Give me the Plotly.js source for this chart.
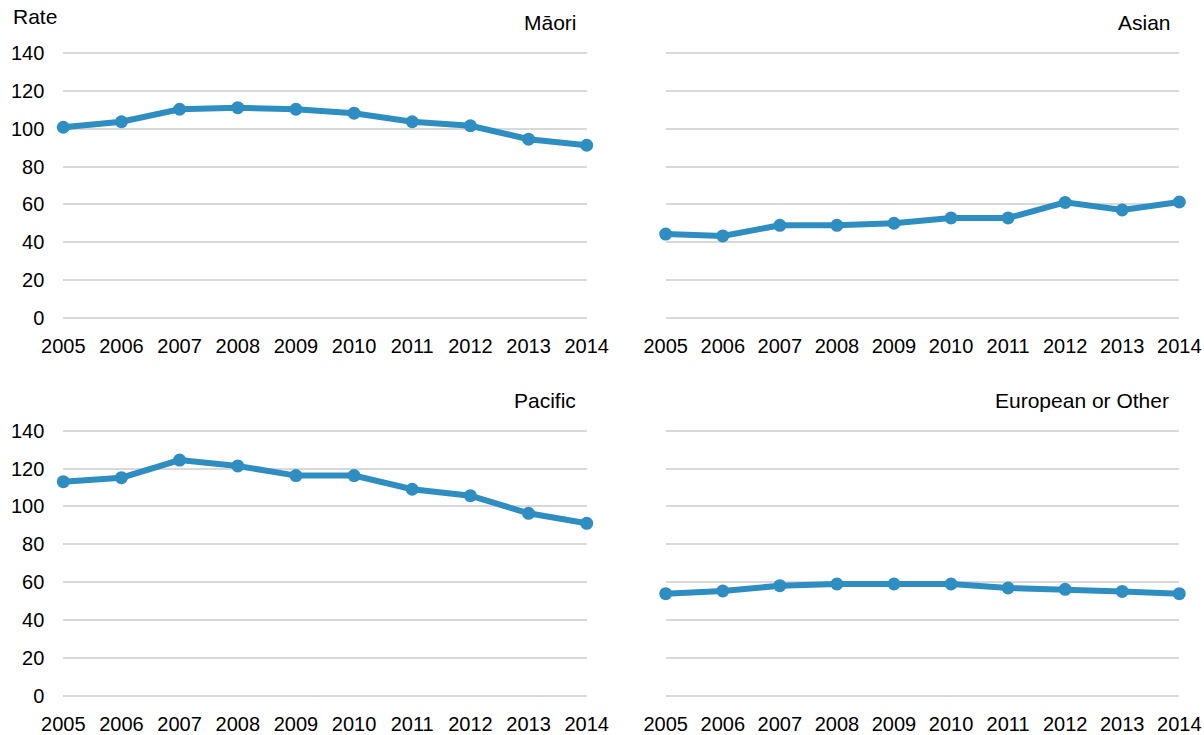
<!DOCTYPE html>
<html>
<head>
<meta charset="utf-8">
<script src="https://cdn.plot.ly/plotly-3.0.1.min.js"></script>
<style>
html,body{margin:0;padding:0;background:#fff;}
#chart{width:1204px;height:735px;}
</style>
</head>
<body>
<div id="chart"></div>
<script>
const years = [2005, 2006, 2007, 2008, 2009, 2010, 2011, 2012, 2013, 2014];
const yearLabels = ["2005", "2006", "2007", "2008", "2009", "2010", "2011", "2012", "2013", "2014"];
const maori = [100.7, 103.6, 110.2, 111.0, 110.2, 108.1, 103.6, 101.5, 94.4, 91.2];
const asian = [44.4, 43.4, 49.0, 49.0, 50.1, 52.9, 52.9, 61.1, 57.1, 61.3];
const pacific = [113.1, 115.2, 124.5, 121.4, 116.3, 116.3, 109.1, 105.7, 96.4, 91.1];
const european = [54.0, 55.4, 58.2, 59.1, 59.1, 59.1, 57.0, 56.3, 55.2, 54.0];
const panelTitles = ["Māori", "Asian", "Pacific", "European or Other"];
const yTicks = [0, 20, 40, 60, 80, 100, 120, 140];
const yAxisTitle = "Rate";

const W = 1204, H = 735;
const color = "rgb(46,142,193)";
const fontFam = "Liberation Sans, Arial, sans-serif";

function trace(y, xa, ya) {
  return {
    x: years, y: y, xaxis: xa, yaxis: ya, type: "scatter", mode: "lines+markers",
    line: {color: color, width: 6},
    marker: {color: color, size: 13},
    cliponaxis: false, hoverinfo: "x+y"
  };
}
const data = [
  trace(maori, "x", "y"),
  trace(asian, "x2", "y2"),
  trace(pacific, "x3", "y3"),
  trace(european, "x4", "y4")
];

// y range padded by 2 units each side so edge gridlines (0 and 140) are drawn
const pxPerUnit = 1.897;
const pad = 2 * pxPerUnit;
const leftX = [63.3 / W, 586.7 / W];
const rightX = [665.7 / W, 1179.3 / W];
const topY = [1 - (318.3 + pad) / H, 1 - (52.7 - pad) / H];
const botY = [1 - (696 + pad) / H, 1 - (430.7 - pad) / H];

function xax(domain, anchor) {
  return {
    domain: domain, anchor: anchor, range: [years[0], years[years.length - 1]],
    tickvals: years, ticktext: yearLabels, showgrid: false, zeroline: false, showline: false,
    ticks: "", ticklabelstandoff: 10, tickfont: {family: fontFam, size: 20, color: "#000"},
    fixedrange: true
  };
}
function yax(domain, anchor, showLabels) {
  return {
    domain: domain, anchor: anchor, range: [-2, 142], tickvals: yTicks,
    ticktext: yTicks.map(String), showticklabels: showLabels,
    showgrid: true, gridcolor: "#D9D9D9", gridwidth: 2, zeroline: false, showline: false,
    ticks: "", ticklabelstandoff: 18, tickfont: {family: fontFam, size: 20, color: "#000"},
    fixedrange: true
  };
}

function ann(text, xpx, ypx, xanchor) {
  return {
    text: text, xref: "paper", yref: "paper", x: xpx / W, y: 1 - ypx / H,
    xanchor: xanchor, yanchor: "middle", showarrow: false,
    font: {family: fontFam, size: 21, color: "#000"}
  };
}

const layout = {
  width: W, height: H, margin: {l: 0, r: 0, t: 0, b: 0},
  paper_bgcolor: "#fff", plot_bgcolor: "#fff", showlegend: false,
  font: {family: fontFam, color: "#000"},
  xaxis: xax(leftX, "y"), yaxis: yax(topY, "x", true),
  xaxis2: xax(rightX, "y2"), yaxis2: yax(topY, "x2", false),
  xaxis3: xax(leftX, "y3"), yaxis3: yax(botY, "x3", true),
  xaxis4: xax(rightX, "y4"), yaxis4: yax(botY, "x4", false),
  annotations: [
    ann(yAxisTitle, 11, 16, "left"),
    ann(panelTitles[0], 579, 23, "right"),
    ann(panelTitles[1], 1173, 23, "right"),
    ann(panelTitles[2], 578, 400, "right"),
    ann(panelTitles[3], 1171, 400, "right")
  ]
};

Plotly.newPlot("chart", data, layout, {displayModeBar: false, staticPlot: true});
</script>
</body>
</html>
